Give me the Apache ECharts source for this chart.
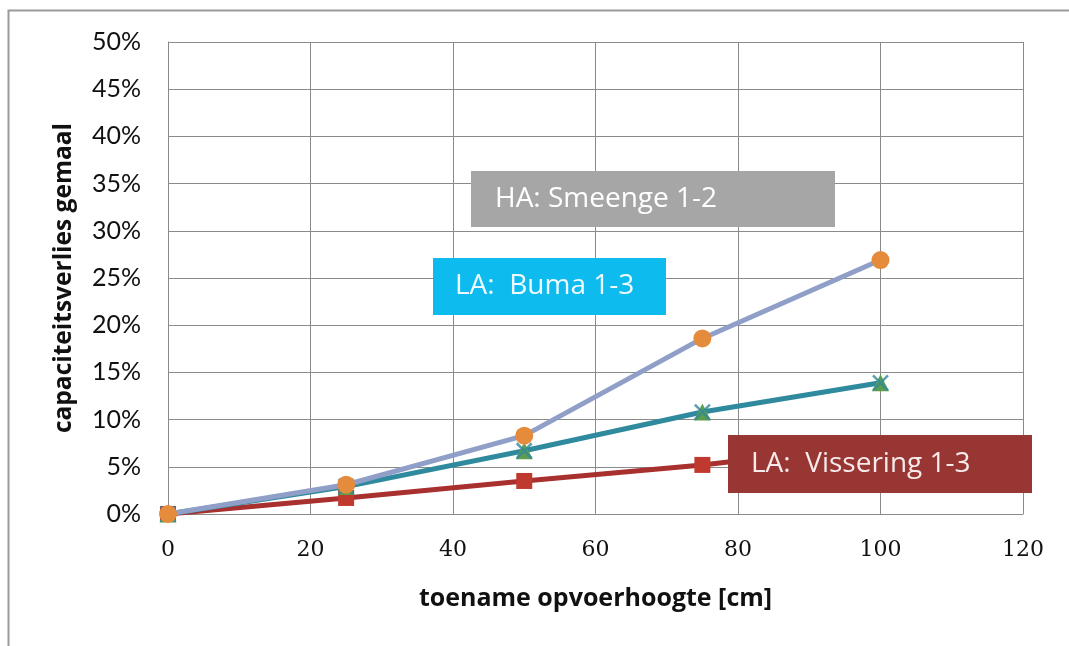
<!DOCTYPE html>
<html>
<head>
<meta charset="utf-8">
<script src="https://cdn.jsdelivr.net/npm/echarts@6/dist/echarts.min.js"></script>
<style>
  html, body { margin: 0; padding: 0; background: #fff; }
  #chart { width: 1069px; height: 646px; }
</style>
</head>
<body>
<div id="chart"></div>
<script>
// toename opvoerhoogte [cm]
const heights = [0, 25, 50, 75, 100];
// capaciteitsverlies (%) per gemaal
const smeenge = [0, 3.1, 8.3, 18.6, 26.9];
const buma = [0, 2.9, 6.7, 10.8, 13.9];
const vissering = [0, 1.7, 3.5, 5.2, 7.4];

const seriesNames = ['HA: Smeenge 1-2', 'LA:  Buma 1-3', 'LA:  Vissering 1-3'];

const pairs = (ys) => heights.map((x, i) => [x, ys[i]]);

const chart = echarts.init(document.getElementById('chart'));

const sansFont = '"Open Sans", Lato, sans-serif';

// a filled callout box with its series name
function callout(x, y, w, h, fill, textColor, text, tx) {
  return [
    { type: 'rect', shape: { x: x, y: y, width: w, height: h }, style: { fill: fill }, z: 20 },
    { type: 'text', x: x + tx, y: y + h / 2, z: 21,
      style: { text: text, fill: textColor, font: '28px ' + sansFont, verticalAlign: 'middle' } }
  ];
}

chart.setOption({
  animation: false,
  backgroundColor: '#fff',
  grid: { left: 168, right: 46, top: 42, bottom: 132 },
  xAxis: {
    type: 'value',
    min: 0, max: 120, interval: 20,
    name: 'toename opvoerhoogte [cm]',
    nameLocation: 'middle',
    nameGap: 72,
    nameTextStyle: { fontFamily: sansFont, fontWeight: 'bold', fontSize: 25, color: '#111' },
    axisLine: { lineStyle: { color: '#8a8a8a', width: 1 } },
    axisTick: { show: false },
    axisLabel: { margin: 25, fontFamily: '"DejaVu Serif", serif', fontSize: 22, color: '#111' },
    splitLine: { show: true, lineStyle: { color: '#8a8a8a', width: 1 } }
  },
  yAxis: {
    type: 'value',
    min: 0, max: 50, interval: 5,
    name: 'capaciteitsverlies gemaal',
    nameLocation: 'middle',
    nameGap: 91,
    nameTextStyle: { fontFamily: sansFont, fontWeight: 'bold', fontSize: 24.5, color: '#111' },
    axisLine: { show: true, lineStyle: { color: '#8a8a8a', width: 1 } },
    axisTick: { show: false },
    axisLabel: { margin: 27, formatter: '{value}%', fontFamily: 'Lato, sans-serif', fontSize: 25, color: '#111' },
    splitLine: { show: true, lineStyle: { color: '#8a8a8a', width: 1 } }
  },
  series: [
    {
      name: seriesNames[2], type: 'line', data: pairs(vissering),
      symbol: 'rect', symbolSize: 16,
      lineStyle: { color: '#a8302e', width: 5 },
      itemStyle: { color: '#c0392f' },
      z: 2
    },
    {
      name: seriesNames[1], type: 'line', data: pairs(buma),
      symbol: 'triangle', symbolSize: 17,
      lineStyle: { color: '#2f8a9e', width: 5 },
      itemStyle: { color: '#5e9c4e' },
      z: 3
    },
    {
      // cross drawn on top of each Buma triangle
      name: seriesNames[1] + ' x', type: 'scatter', data: pairs(buma),
      symbol: 'path://M0,0L10,10M10,0L0,10', symbolSize: 15,
      itemStyle: { color: 'none', borderColor: '#2f8a9e', borderWidth: 2.5 },
      z: 3
    },
    {
      name: seriesNames[0], type: 'line', data: pairs(smeenge),
      symbol: 'circle', symbolSize: 18,
      lineStyle: { color: '#909fc8', width: 5 },
      itemStyle: { color: '#e58b3c' },
      z: 4
    }
  ],
  graphic: [
    // outer chart frame (only its top and left edges fall inside the page)
    { type: 'rect', shape: { x: 8.5, y: 10.5, width: 1200, height: 800 },
      style: { fill: 'none', stroke: '#9a9a9a', lineWidth: 2 }, z: 0, silent: true },
    ...callout(471, 171, 364, 56, '#a6a6a6', '#ffffff', seriesNames[0], 24),
    ...callout(433, 258, 233, 57, '#0dbbef', '#eefaff', seriesNames[1], 22),
    ...callout(728, 435, 304, 58, '#983634', '#f7eaea', seriesNames[2], 23)
  ]
});
</script>
</body>
</html>
